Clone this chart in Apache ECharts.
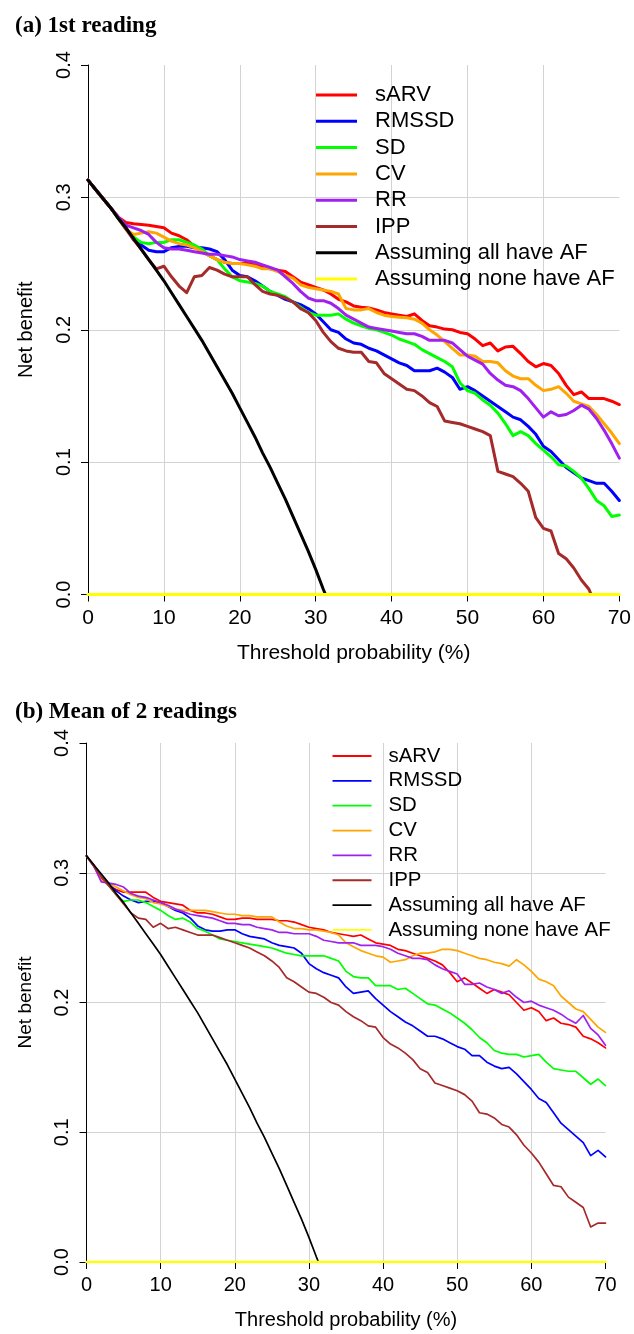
<!DOCTYPE html>
<html>
<head>
<meta charset="utf-8">
<script src="https://cdn.jsdelivr.net/npm/echarts@6/dist/echarts.min.js"></script>
<style>
html,body{margin:0;padding:0;background:#fff;}
#chart{width:634px;height:1334px;}
</style>
</head>
<body>
<div id="chart"></div>
<script>
// ---------- DATA ----------
const panelTitles = ['(a) 1st reading', '(b) Mean of 2 readings'];
const seriesNames = ['sARV', 'RMSSD', 'SD', 'CV', 'RR', 'IPP', 'Assuming all have AF', 'Assuming none have AF'];
const seriesColors = ['#FF0000', '#0000FF', '#00FF00', '#FFA500', '#A020F0', '#A52A2A', '#000000', '#FFFF00'];
const xTicks = [0, 10, 20, 30, 40, 50, 60, 70];
const yTicks = [0.0, 0.1, 0.2, 0.3, 0.4];
const xTitle = 'Threshold probability (%)';
const yTitle = 'Net benefit';

// threshold grid (%), one point per 1 %
const thresholds = Array.from({length: 71}, (_, i) => i);

// Panel (a): 1st reading
const a_sARV = [.313,.306,.299,.292,.285,.281,.280,.2795,.279,.278,.277,.273,.271,.268,.263,.259,.256,.253,.251,.250,.250,.250,.249,.247,.246,.245,.244,.240,.236,.234,.232,.230,.227,.223,.221,.218,.217,.2165,.215,.213,.212,.211,.210,.212,.207,.203,.202,.2005,.200,.198,.197,.193,.188,.190,.184,.187,.1875,.182,.176,.172,.1745,.173,.167,.158,.151,.153,.148,.148,.148,.146,.1435];
const a_RMSSD = [.313,.306,.299,.292,.285,.277,.268,.264,.260,.259,.259,.262,.263,.263,.262,.262,.261,.259,.253,.245,.241,.240,.237,.233,.229,.226,.223,.221,.219,.216,.212,.206,.200,.198,.193,.190,.189,.186,.184,.181,.178,.175,.173,.169,.169,.169,.171,.168,.164,.155,.157,.154,.150,.146,.142,.138,.134,.132,.127,.121,.112,.108,.102,.096,.092,.088,.086,.084,.084,.078,.071];
const a_SD = [.313,.306,.299,.292,.284,.276,.270,.266,.265,.266,.266,.268,.268,.266,.264,.261,.256,.253,.246,.240,.237,.236,.235,.233,.229,.227,.225,.221,.217,.213,.211,.211,.211,.212,.208,.205,.203,.201,.200,.198,.196,.193,.191,.189,.185,.182,.179,.176,.172,.160,.154,.152,.147,.143,.137,.129,.120,.123,.120,.114,.109,.104,.098,.097,.093,.088,.080,.071,.067,.059,.060];
const a_CV = [.313,.306,.299,.292,.285,.276,.272,.273,.274,.273,.270,.267,.265,.264,.262,.259,.256,.253,.251,.250,.250,.249,.248,.246,.246,.244,.241,.239,.234,.232,.231,.230,.229,.227,.216,.215,.215,.216,.213,.211,.210,.2095,.209,.208,.205,.200,.196,.191,.186,.181,.181,.180,.176,.176,.175,.169,.165,.163,.163,.158,.154,.155,.157,.152,.146,.144,.142,.136,.129,.122,.114];
const a_RR = [.313,.306,.299,.292,.285,.279,.277,.275,.272,.266,.262,.261,.261,.260,.259,.258,.257,.257,.256,.255,.253,.252,.251,.249,.247,.245,.240,.235,.229,.224,.222,.222,.220,.216,.211,.208,.205,.202,.201,.200,.199,.198,.197,.197,.195,.192,.192,.192,.190,.185,.180,.177,.174,.167,.162,.158,.157,.154,.148,.141,.134,.138,.135,.136,.139,.143,.140,.133,.124,.114,.103];
const a_IPP = [.313,.306,.299,.292,.284,.276,.268,.261,.253,.246,.248,.240,.233,.228,.240,.241,.247,.245,.242,.240,.240,.240,.234,.229,.227,.226,.224,.221,.216,.213,.207,.198,.191,.186,.184,.183,.183,.176,.175,.167,.163,.159,.155,.154,.150,.145,.142,.131,.130,.129,.127,.125,.123,.120,.093,.091,.089,.084,.078,.058,.050,.048,.031,.027,.020,.011,.004,-.010,null,null,null];

// Panel (b): mean of 2 readings
const b_sARV = [.313,.306,.296,.290,.287,.285,.285,.285,.285,.281,.278,.277,.276,.275,.271,.269,.269,.268,.266,.264,.264,.265,.265,.264,.264,.264,.263,.263,.262,.260,.258,.257,.256,.254,.253,.252,.251,.252,.249,.246,.245,.244,.241,.240,.238,.236,.234,.232,.229,.223,.216,.219,.215,.211,.207,.210,.208,.206,.200,.194,.196,.193,.186,.188,.184,.183,.181,.174,.172,.169,.165];
const b_RMSSD = [.313,.305,.297,.291,.286,.282,.279,.277,.278,.278,.277,.274,.271,.269,.265,.259,.256,.255,.255,.256,.256,.253,.251,.250,.249,.246,.244,.243,.242,.238,.230,.226,.223,.221,.219,.212,.207,.208,.209,.203,.198,.193,.189,.185,.182,.178,.174,.174,.172,.169,.166,.164,.159,.159,.154,.151,.149,.150,.145,.139,.133,.126,.123,.115,.107,.102,.097,.092,.082,.086,.081];
const b_SD = [.313,.305,.297,.290,.283,.278,.279,.279,.277,.274,.271,.267,.264,.265,.262,.257,.255,.252,.249,.248,.247,.246,.245,.244,.243,.242,.240,.238,.237,.236,.236,.236,.236,.234,.232,.224,.220,.219,.219,.213,.213,.213,.210,.211,.207,.203,.199,.198,.195,.192,.188,.184,.179,.173,.169,.163,.161,.160,.160,.158,.159,.160,.154,.149,.148,.147,.147,.142,.137,.141,.136];
const b_CV = [.313,.305,.294,.292,.289,.286,.283,.281,.280,.277,.276,.274,.272,.271,.271,.271,.271,.270,.269,.268,.268,.267,.267,.266,.266,.266,.262,.259,.257,.257,.256,.256,.255,.254,.252,.246,.243,.240,.238,.236,.235,.231,.232,.233,.236,.238,.238,.239,.241,.241,.240,.238,.236,.234,.233,.231,.230,.228,.233,.229,.224,.218,.216,.213,.205,.200,.195,.193,.187,.181,.177];
const b_RR = [.313,.305,.293,.292,.291,.289,.284,.282,.281,.279,.277,.275,.272,.270,.268,.267,.266,.265,.263,.261,.261,.260,.260,.258,.257,.256,.254,.254,.253,.253,.253,.251,.248,.247,.246,.246,.246,.244,.244,.244,.243,.241,.238,.236,.234,.234,.233,.229,.226,.224,.222,.214,.214,.215,.212,.210,.207,.209,.204,.200,.201,.198,.196,.194,.191,.187,.184,.190,.180,.175,.167];
const b_IPP = [.313,.305,.297,.290,.283,.276,.269,.265,.264,.258,.261,.257,.258,.256,.254,.252,.252,.252,.250,.248,.246,.244,.242,.239,.236,.232,.227,.219,.216,.212,.208,.207,.204,.200,.198,.193,.189,.186,.182,.181,.173,.168,.165,.161,.156,.149,.146,.138,.136,.134,.132,.129,.124,.115,.114,.111,.106,.104,.098,.090,.084,.077,.068,.059,.058,.050,.046,.042,.027,.030,.030];

// Reference lines (same prevalence in both panels)
const treatAll = [.313,.306,.299,.292,.284,.277,.269,.261,.253,.245,.237,.228,.219,.210,.201,.192,.182,.172,.162,.152,.141,.130,.119,.107,.096,.084,.072,.059,.046,.033,.019,.004,-.010,null,null,null,null,null,null,null,null,null,null,null,null,null,null,null,null,null,null,null,null,null,null,null,null,null,null,null,null,null,null,null,null,null,null,null,null,null,null];
const treatNone = [0,0,0,0,0,0,0,0,0,0,0,0,0,0,0,0,0,0,0,0,0,0,0,0,0,0,0,0,0,0,0,0,0,0,0,0,0,0,0,0,0,0,0,0,0,0,0,0,0,0,0,0,0,0,0,0,0,0,0,0,0,0,0,0,0,0,0,0,0,0,0];

const panelA = [a_sARV, a_RMSSD, a_SD, a_CV, a_RR, a_IPP, treatAll, treatNone];
const panelB = [b_sARV, b_RMSSD, b_SD, b_CV, b_RR, b_IPP, treatAll, treatNone];

// ---------- LAYOUT ----------
const SANS = '"Liberation Sans", Arial, sans-serif';
const SERIF = '"Liberation Serif", "Times New Roman", serif';
const layout = [
  {grid: {left: 88, right: 13, top: 65, height: 529.5}, lw: 3, noneW: 3, titleTop: 10, fs: 21,
   legend: {left: 311, top: 79, itemWidth: 41, itemHeight: 3, itemGap: 4.3, fontSize: 22, lh: 21, pad: 13},
   xNameGap: 48, yNameGap: 52},
  {grid: {left: 86.5, right: 28.5, top: 743, height: 519}, lw: 1.7, noneW: 2.6, titleTop: 696, fs: 20,
   legend: {left: 327.5, top: 741, itemWidth: 39, itemHeight: 1.8, itemGap: 4.85, fontSize: 20.4, lh: 20, pad: 12},
   xNameGap: 48, yNameGap: 51}
];

function toPairs(arr) {
  const out = [];
  thresholds.forEach((x, i) => { if (arr[i] !== null && arr[i] !== undefined) out.push([x, arr[i]]); });
  return out;
}

const option = {
  animation: false,
  backgroundColor: '#ffffff',
  title: [], grid: [], xAxis: [], yAxis: [], legend: [], series: []
};

[panelA, panelB].forEach((panel, p) => {
  const L = layout[p];
  option.title.push({
    text: panelTitles[p], left: 10, top: L.titleTop,
    textStyle: {fontFamily: SERIF, fontWeight: 'bold', fontSize: 23, color: '#000'}
  });
  option.grid.push(L.grid);
  option.xAxis.push({
    type: 'value', gridIndex: p, min: xTicks[0], max: xTicks[xTicks.length - 1], interval: 10,
    name: xTitle, nameLocation: 'middle', nameGap: L.xNameGap,
    nameTextStyle: {fontFamily: SANS, fontSize: L.fs, color: '#000'},
    axisLine: {show: false, onZero: false},
    axisTick: {show: true, length: 7, inside: false, lineStyle: {color: '#000', width: 1}},
    axisLabel: {fontFamily: SANS, fontSize: L.fs, color: '#000', margin: 13},
    splitLine: {show: true, showMinLine: false, showMaxLine: false, lineStyle: {color: '#d3d3d3', width: 1}}
  });
  option.yAxis.push({
    type: 'value', gridIndex: p, min: yTicks[0], max: yTicks[yTicks.length - 1], interval: 0.1,
    name: yTitle, nameLocation: 'middle', nameGap: L.yNameGap, nameRotate: 90,
    nameTextStyle: {fontFamily: SANS, fontSize: L.fs - 1, color: '#000'},
    axisLine: {show: true, lineStyle: {color: '#000', width: 1}},
    axisTick: {show: true, length: 7, inside: false, lineStyle: {color: '#000', width: 1}},
    axisLabel: {fontFamily: SANS, fontSize: 20, color: '#000', rotate: 90, margin: 14,
                formatter: v => v.toFixed(1)},
    splitLine: {show: true, showMinLine: false, showMaxLine: false, lineStyle: {color: '#d3d3d3', width: 1}}
  });
  option.legend.push({
    orient: 'vertical', left: L.legend.left, top: L.legend.top,
    itemWidth: L.legend.itemWidth, itemHeight: L.legend.itemHeight, itemGap: L.legend.itemGap,
    selectedMode: false, icon: 'rect',
    textStyle: {fontFamily: SANS, fontSize: L.legend.fontSize, color: '#000', lineHeight: L.legend.lh,
                padding: [0, 0, 0, L.legend.pad]},
    data: seriesNames.map((n, i) => ({name: n, icon: 'rect', itemStyle: {color: seriesColors[i], borderWidth: 0}}))
  });
  panel.forEach((arr, i) => {
    option.series.push({
      type: 'line', name: seriesNames[i], xAxisIndex: p, yAxisIndex: p,
      data: toPairs(arr), showSymbol: false, symbol: 'none', clip: true,
      color: seriesColors[i],
      lineStyle: {color: seriesColors[i], width: i === 7 ? L.noneW : L.lw, cap: 'round', join: 'round'},
      emphasis: {disabled: true}, z: 2 + (i >= 6 ? 1 : 0)
    });
  });
});

const chart = echarts.init(document.getElementById('chart'), null, {renderer: 'canvas'});
chart.setOption(option);
</script>
</body>
</html>
